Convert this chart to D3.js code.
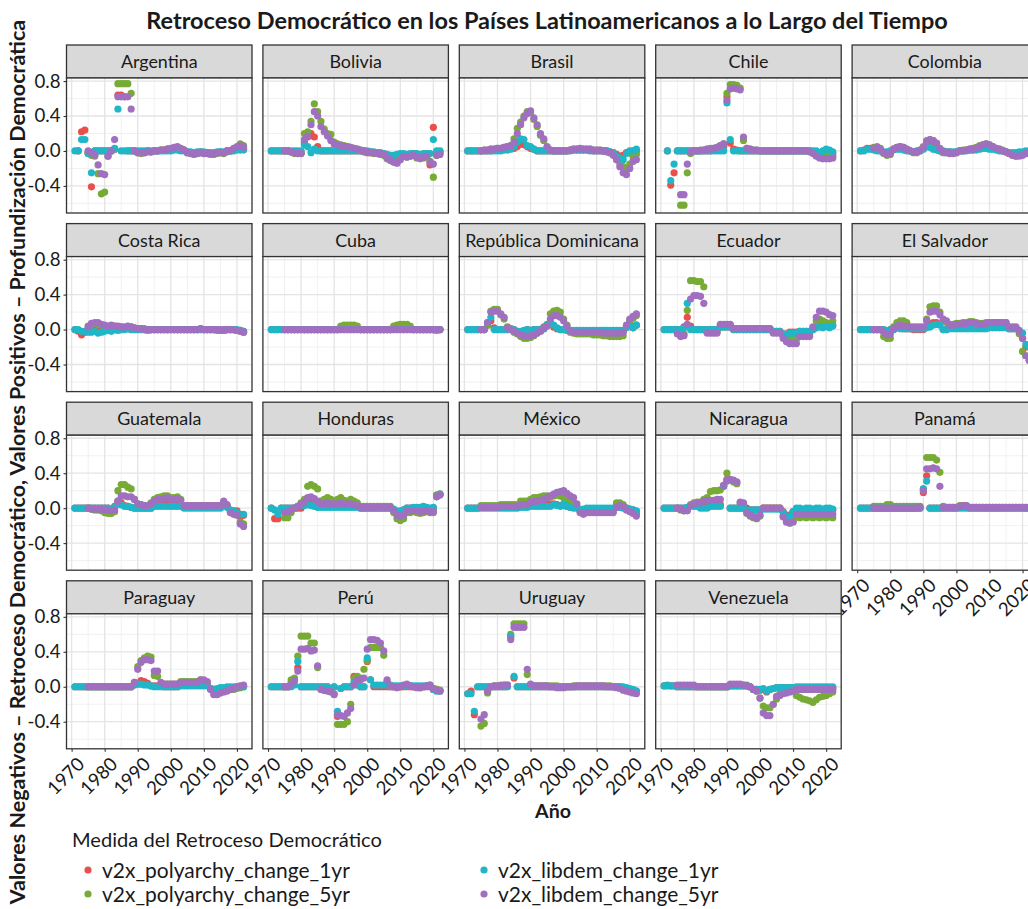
<!DOCTYPE html>
<html lang="es">
<head>
<meta charset="UTF-8">
<title>Retroceso Democrático en los Países Latinoamericanos</title>
<script src="https://d3js.org/d3.v7.min.js"></script>
<style>
  body { margin: 0; background: #fff; }
  svg { display: block; font-family: Lato, "Open Sans", sans-serif; }
</style>
</head>
<body>
<svg id="chart" width="1028" height="909"></svg>
<script>
// Valores en centésimas, años 1971-2022; null = sin dato
// orden de filas: polyarchy 1yr, polyarchy 5yr, libdem 1yr, libdem 5yr
const N = null;
const anios = d3.range(1971, 2023);

const argentina = [
  [N,0,22,24,-2,-41,0,0,0,0,  0,0,2,64,64,62,0,0,0,-1,  -2,-1,0,-1,0,0,1,1,2,2,  3,4,2,1,-1,-2,-3,-2,-1,-2,  -2,-3,-3,-2,-1,-2,0,0,1,2,  3,2],
  [N,N,N,N,-3,-5,-6,-26,-49,-47,  -6,0,2,77,77,77,77,66,0,-2,  -3,-2,0,-1,0,0,1,1,2,2,  3,4,2,1,-2,-3,-4,-3,-2,-3,  -3,-4,-4,-3,-2,-3,-1,0,2,3,  8,6],
  [0,0,13,13,-3,-25,0,0,0,0,  0,0,3,48,0,0,0,0,0,0,  0,0,0,0,0,0,0,0,0,0,  1,1,0,0,-1,-1,-2,-1,-1,-1,  -2,-2,-2,-1,-1,-1,0,0,0,1,  1,1],
  [N,N,N,N,0,-2,-5,-16,-26,-27,  -6,0,13,62,62,62,62,48,0,-2,  -2,-2,-1,-1,0,0,1,1,2,3,  4,5,3,1,-2,-3,-3,-3,-2,-3,  -3,-3,-3,-2,-2,-2,0,0,3,5,  6,4]
];
const bolivia = [
  [0,0,0,0,0,0,-1,-2,-2,-2,  10,16,20,16,5,0,0,0,0,0,  0,0,0,0,0,0,0,0,-1,-2,  -1,-2,-2,-3,-3,-5,-7,-8,-7,-4,  -4,-5,-4,-3,-4,-5,-4,-3,-16,27,  -2,-1],
  [N,N,N,N,0,0,-1,-3,-3,-3,  20,22,34,54,45,34,25,20,19,10,  8,7,6,5,4,3,2,1,0,-1,  -2,-3,-3,-4,-5,-9,-11,-12,-13,-9,  -6,-7,-6,-5,-8,-9,-8,-7,-12,-30,  -5,-3],
  [0,0,0,0,0,0,0,0,0,0,  7,5,-2,2,0,0,0,0,0,0,  0,0,0,0,0,0,0,0,0,0,  -1,-1,-2,-2,-3,-4,-5,-5,-4,-3,  -3,-4,-3,-3,-3,-4,-3,-3,-3,13,  0,0],
  [N,N,N,N,0,0,-1,-2,-3,-3,  13,17,30,45,40,28,22,17,12,8,  7,6,5,5,4,3,2,1,0,-1,  -2,-2,-3,-3,-4,-8,-10,-13,-14,-10,  -6,-7,-6,-5,-7,-8,-7,-6,-13,-15,  -5,-4]
];
const brasil = [
  [0,0,0,0,0,0,0,0,1,1,  1,2,2,3,3,5,8,7,5,3,  2,0,0,0,0,0,0,0,0,0,  0,1,1,1,1,1,1,1,0,0,  0,0,0,-1,-2,-4,-6,-5,-2,-2,  0,0],
  [N,N,N,N,0,1,1,2,2,3,  3,4,5,6,14,26,33,40,45,44,  36,28,18,12,4,1,0,0,0,0,  0,1,2,2,2,2,2,2,1,1,  1,0,0,-2,-4,-8,-14,-18,-20,-15,  -6,-4],
  [0,0,0,0,0,0,0,0,0,0,  0,1,1,2,5,10,14,13,6,5,  2,0,0,0,0,0,0,0,0,0,  0,0,1,1,1,1,1,0,0,0,  0,0,0,-1,-2,-6,-8,-10,-3,0,  0,2],
  [N,N,N,N,0,1,1,2,2,3,  3,4,5,6,10,20,30,38,43,46,  38,30,20,14,5,1,0,0,0,0,  0,1,2,2,3,2,2,2,1,1,  1,0,-1,-2,-5,-10,-18,-25,-27,-20,  -12,-10]
];
const chile = [
  [N,0,-39,-25,0,0,0,0,0,0,  0,0,0,0,0,1,2,3,5,62,  9,2,1,0,0,0,0,0,0,0,  0,0,0,0,0,0,0,0,0,0,  0,0,0,0,0,-1,-3,-4,-3,-2,  -2,-3],
  [N,N,N,N,N,-62,-62,-25,-3,0,  0,0,1,2,3,3,4,6,8,66,  76,76,75,72,12,3,2,1,1,0,  0,0,0,0,0,0,0,0,0,0,  0,0,0,0,0,-2,-4,-6,-6,-5,  -6,-6],
  [N,0,-34,-15,0,0,0,0,0,0,  0,0,0,0,0,0,0,0,0,55,  13,0,0,0,0,0,0,0,0,0,  0,0,0,0,0,0,0,0,0,0,  0,0,0,0,0,0,0,-2,0,2,  1,-1],
  [N,N,N,N,N,-50,-50,-15,-1,0,  0,1,1,2,2,3,4,6,8,58,  71,72,71,70,16,3,2,1,1,0,  0,0,0,0,0,0,0,0,0,0,  0,0,0,0,-1,-3,-6,-8,-9,-9,  -9,-8]
];
const colombia = [
  [0,1,3,3,2,1,0,-2,-2,-1,  2,3,3,2,1,0,-1,-1,0,3,  8,6,4,2,0,-1,-1,-1,-2,-1,  0,0,1,1,1,2,4,5,5,4,  3,2,1,0,-1,-3,-4,-4,-3,-2,  -1,0],
  [N,N,N,N,4,5,3,-3,-5,-4,  2,4,5,4,2,0,-2,-2,1,5,  12,13,12,8,2,-2,-2,-3,-3,-2,  0,1,1,2,3,4,6,7,8,7,  5,3,2,1,-1,-3,-5,-6,-5,-4,  -3,-2],
  [0,0,2,2,1,0,0,-1,-1,0,  1,2,2,1,0,0,-1,0,0,2,  5,4,2,1,0,0,-1,-1,-1,-1,  0,0,0,1,1,1,2,3,3,2,  2,1,0,0,-1,-2,-2,-2,-1,-1,  0,0],
  [N,N,N,N,3,4,2,-2,-4,-3,  2,4,5,4,2,0,-1,-1,1,4,  11,13,12,9,3,-1,-2,-3,-3,-2,  0,0,1,2,2,3,5,7,8,7,  5,3,2,0,-1,-3,-5,-6,-6,-5,  -3,-2]
];
const costaRica = [
  [0,-2,-6,-3,0,2,3,2,1,1,  1,2,1,1,0,1,1,0,0,0,  0,0,0,0,0,0,0,0,0,0,  0,0,0,0,0,0,0,0,0,0,  0,0,0,0,-1,-1,0,0,0,-1,  -1,-2],
  [N,N,N,N,4,6,7,6,5,4,  3,4,4,3,3,2,2,3,2,1,  1,1,0,0,0,0,0,0,0,0,  0,0,0,0,0,0,0,0,1,0,  0,0,0,-1,-1,-1,0,0,0,-1,  -2,-3],
  [0,0,-2,-2,-3,-3,-2,-4,-3,-2,  -1,-2,0,-1,0,0,1,0,0,0,  0,0,-1,0,0,0,0,0,0,0,  0,0,0,0,0,0,0,0,0,0,  0,0,0,0,-1,-1,0,0,0,0,  -1,-2],
  [N,N,N,N,3,7,8,8,6,5,  4,5,4,4,3,3,4,3,2,1,  1,0,0,0,0,0,0,0,0,0,  0,0,0,0,0,0,0,0,1,0,  0,0,0,0,0,0,0,0,0,-1,  -2,-3]
];
const cuba = [
  [0,0,0,0,0,0,0,0,0,0,  0,0,0,0,0,0,0,0,0,0,  0,2,3,3,3,3,2,0,0,0,  0,0,0,0,0,0,0,2,3,4,  4,4,2,0,0,0,0,0,0,0,  0,0],
  [N,N,N,N,0,0,0,0,0,0,  0,0,0,0,0,0,0,0,0,0,  0,4,5,5,5,5,4,0,0,0,  0,0,0,0,0,0,0,4,5,6,  6,6,4,0,0,0,0,0,0,0,  0,0],
  [0,0,0,0,0,0,0,0,0,0,  0,0,0,0,0,0,0,0,0,0,  0,0,0,0,0,0,0,0,0,0,  0,0,0,0,0,0,0,0,0,0,  0,0,0,0,0,0,0,0,0,0,  -1,0],
  [N,N,N,N,0,0,0,0,0,0,  0,0,0,0,0,0,0,0,0,0,  0,0,0,0,0,0,0,0,0,0,  0,0,0,0,0,0,0,0,0,0,  0,0,0,0,0,0,0,0,0,0,  0,0]
];
const repDominicana = [
  [0,0,0,0,0,0,5,10,2,0,  0,0,0,1,0,-2,-3,-2,0,-1,  0,0,0,1,5,6,3,1,0,0,  -1,-2,-2,-2,-2,-2,-2,-2,-2,-2,  -3,-2,-2,-3,-3,-3,-2,-2,3,8,  2,5],
  [N,N,N,N,0,0,5,21,23,23,  17,12,3,0,-3,-5,-8,-10,-10,-9,  -7,-4,-2,3,6,18,21,22,20,12,  5,-3,-4,-5,-5,-5,-5,-5,-6,-6,  -6,-7,-7,-8,-8,-8,-8,-7,4,10,  13,16],
  [0,0,0,0,0,0,8,14,0,0,  0,0,0,1,0,-2,-2,-1,0,-1,  0,0,0,1,5,8,5,2,0,0,  0,-1,-1,-1,-1,-1,-1,-1,-1,-1,  -1,-1,-1,-1,-1,-1,-1,-1,2,4,  2,5],
  [N,N,N,N,0,0,8,20,21,21,  18,14,2,0,-2,-4,-6,-7,-8,-7,  -6,-4,-2,2,4,12,16,16,14,10,  4,-2,-3,-3,-3,-3,-3,-3,-3,-3,  -3,-4,-4,-4,-4,-4,-4,-3,5,12,  15,18]
];
const ecuador = [
  [0,0,0,0,0,0,3,14,4,0,  0,0,0,0,0,0,0,3,3,3,  3,0,0,0,0,0,0,0,0,0,  0,0,0,-2,-2,-2,-6,-5,-3,-3,  -3,-2,-2,-2,-2,0,2,5,3,6,  3,5],
  [N,N,N,N,-3,-6,-5,22,56,56,  55,55,49,-3,-3,-3,-3,5,5,5,  5,1,1,1,1,1,1,1,1,1,  1,1,1,-3,-3,-3,-8,-10,-11,-11,  -11,-6,-6,-6,-6,2,10,12,10,8,  6,10],
  [0,0,0,0,0,0,2,30,0,0,  0,0,0,0,0,0,0,3,3,3,  3,0,0,0,0,0,0,0,0,0,  0,0,0,-2,-2,-2,-5,-6,-4,-4,  -4,-2,-2,-2,-2,0,2,3,2,4,  2,4],
  [N,N,N,N,-5,-8,-7,6,35,39,  39,38,30,-4,-4,-4,-4,6,6,6,  6,1,1,1,1,1,1,1,1,1,  1,1,1,-4,-4,-4,-10,-14,-16,-16,  -16,-8,-8,-8,-8,3,14,21,21,20,  17,16]
];
const elSalvador = [
  [0,0,0,0,0,0,0,0,-3,0,  0,3,2,1,1,1,0,0,0,0,  3,5,8,8,6,0,0,2,2,2,  3,3,3,3,3,3,3,3,3,4,  4,4,4,4,4,1,1,1,-2,-10,  -20,-20],
  [N,N,N,N,0,0,0,-8,-10,-10,  3,8,10,10,8,2,2,2,2,2,  12,26,27,27,20,10,8,6,6,7,  7,8,8,9,9,8,7,7,8,8,  8,8,8,8,8,2,2,2,-5,-25,  -30,-35],
  [0,0,0,0,0,0,0,0,-2,0,  0,2,1,1,1,1,1,1,1,1,  2,3,5,6,5,0,0,1,1,1,  1,1,1,1,1,1,1,1,1,2,  2,2,2,2,2,1,1,1,-1,-4,  -17,-20],
  [N,N,N,N,0,0,0,-3,-6,-5,  1,4,5,4,4,3,3,3,3,3,  10,20,21,21,17,12,10,5,5,6,  6,7,7,8,8,7,6,6,7,8,  8,8,8,8,8,3,3,3,-2,-10,  -30,-35]
];
const guatemala = [
  [0,0,0,0,0,0,0,0,0,0,  0,-2,2,8,6,3,2,1,0,0,  0,0,0,0,4,4,4,4,4,4,  4,4,4,1,1,1,1,1,1,1,  1,1,1,1,1,5,2,-3,-3,-3,  -10,-8],
  [N,N,N,N,0,-1,-2,-2,-3,-5,  -6,-6,-4,20,27,27,24,22,10,5,  4,3,2,6,10,12,13,14,14,12,  12,13,10,3,3,3,3,3,3,3,  3,3,3,3,3,7,3,-4,-6,-7,  -16,-18],
  [0,0,0,0,0,0,0,0,0,0,  0,-1,1,5,4,2,2,1,0,0,  0,0,0,0,2,2,2,2,2,2,  2,2,2,0,0,0,0,0,0,0,  0,0,0,0,0,4,1,-2,-3,-5,  -7,-7],
  [N,N,N,N,0,-1,-1,-1,-1,-2,  -2,-3,-2,8,14,14,13,13,10,5,  4,3,3,5,8,10,10,11,12,10,  10,11,9,3,3,3,3,3,3,3,  3,3,3,3,3,8,4,-5,-7,-8,  -18,-21]
];
const honduras = [
  [0,-12,-12,0,0,0,0,0,0,0,  5,8,10,3,2,2,2,2,2,2,  2,2,2,2,2,2,2,0,0,0,  0,0,0,0,0,0,0,-2,-5,-4,  -2,0,0,0,0,0,0,-1,-2,0,  15,16],
  [N,N,N,N,-11,-11,-5,0,2,6,  10,25,27,25,22,8,10,12,10,8,  10,12,9,8,10,8,6,2,2,2,  2,2,2,2,2,2,2,-5,-12,-14,  -12,-5,-5,-4,-5,-6,-5,-4,-5,-5,  15,16],
  [0,-2,-7,0,0,0,0,0,2,3,  3,4,3,2,1,1,1,1,1,1,  1,1,1,1,1,1,1,0,0,0,  0,0,0,0,0,0,0,-1,-3,-3,  -2,0,0,1,1,1,2,1,0,1,  13,16],
  [N,N,N,N,-5,-4,-2,0,2,5,  7,12,13,11,8,5,5,6,5,5,  5,6,5,5,5,4,3,1,1,1,  1,1,1,1,1,1,1,-3,-8,-9,  -8,-3,-3,-3,-3,-4,-3,-3,-4,-4,  13,15]
];
const mexico = [
  [0,0,0,0,1,1,1,1,1,1,  1,1,1,1,1,1,2,2,2,4,  4,4,4,4,4,5,5,4,3,3,  2,1,1,1,-3,-3,-1,-1,-1,-1,  -1,-1,-1,-1,-1,2,2,1,0,-1,  -2,-4],
  [N,N,N,N,3,3,3,3,3,3,  4,4,4,4,4,4,8,8,8,10,  12,12,13,14,14,13,14,15,14,12,  10,8,6,2,-4,-5,-4,-4,-4,-4,  -4,-4,-4,-4,-4,6,6,4,0,-3,  -5,-7],
  [0,0,0,0,0,0,0,0,0,0,  0,0,0,0,0,0,1,1,1,2,  2,2,2,2,2,2,4,3,2,5,  2,1,0,0,-2,-1,0,0,0,0,  0,0,0,0,0,1,1,0,0,-1,  -2,-3],
  [N,N,N,N,1,1,1,1,1,1,  2,2,2,2,2,2,4,4,4,7,  8,8,9,10,12,14,16,18,19,20,  17,14,12,5,-5,-7,-5,-5,-5,-5,  -5,-5,-5,-5,-5,1,3,2,-2,-4,  -6,-9]
];
const nicaragua = [
  [0,0,0,0,0,0,0,0,3,3,  3,3,3,3,4,4,4,4,25,33,  0,0,0,0,0,0,-2,-2,-2,-2,  0,0,0,0,0,0,-4,-8,-8,-4,  -2,-2,-2,-2,-2,-2,-2,-2,-2,-2,  -2,-2],
  [N,N,N,N,0,-2,-3,-2,4,6,  7,7,10,12,19,20,20,21,26,40,  32,30,28,6,5,-6,-9,-11,-12,-9,  0,0,0,0,0,0,-9,-15,-17,-15,  -10,-11,-10,-11,-10,-11,-10,-11,-10,-11,  -10,-11],
  [0,0,0,0,0,0,0,1,2,2,  2,0,0,0,2,2,2,2,25,31,  0,0,0,0,0,-3,-2,-2,-2,-2,  -1,-1,-1,-1,-1,-1,-5,-9,-9,-4,  0,0,-1,0,0,-1,0,0,-1,0,  0,-1],
  [N,N,N,N,0,-1,-3,-3,3,5,  6,6,8,9,9,9,10,10,26,32,  33,32,30,7,6,-5,-8,-10,-11,-8,  0,0,0,0,0,0,-10,-16,-17,-16,  -7,-7,-7,-7,-7,-7,-7,-7,-7,-7,  -7,-7]
];
const panama = [
  [0,0,0,0,0,0,0,0,0,0,  0,0,0,0,0,0,0,0,0,18,  37,0,0,0,0,0,0,0,0,0,  1,1,1,0,0,0,0,0,0,0,  0,0,0,0,0,0,0,0,0,0,  0,0],
  [N,N,N,N,2,2,2,2,4,4,  2,2,2,2,2,2,2,2,2,22,  58,58,58,55,41,2,1,1,1,1,  3,3,3,1,1,1,1,1,1,1,  1,1,1,1,1,1,1,1,1,1,  1,1],
  [0,0,0,0,0,0,0,0,0,0,  0,0,0,0,0,0,0,0,0,22,  31,0,0,0,0,0,0,0,0,0,  0,0,0,0,0,0,0,0,0,0,  0,0,0,0,0,0,0,0,0,0,  0,0],
  [N,N,N,N,0,0,0,0,0,0,  0,0,0,0,0,0,0,0,1,20,  45,45,46,45,25,1,1,1,1,1,  2,3,3,1,1,1,1,1,1,1,  1,1,1,1,1,1,1,1,1,1,  1,1]
];
const paraguay = [
  [0,0,0,0,0,0,0,0,0,0,  0,0,0,0,0,0,0,0,3,4,  7,6,4,1,1,1,1,0,0,0,  0,0,3,3,3,3,3,3,3,3,  3,-2,-3,-3,-2,-2,-1,-1,-1,0,  0,1],
  [N,N,N,N,0,0,0,0,0,0,  0,0,0,0,0,0,0,0,5,23,  30,33,35,34,13,12,3,3,3,3,  3,3,6,6,6,6,6,6,8,7,  5,-2,-7,-7,-5,-4,-3,-2,-3,-2,  -1,0],
  [0,0,0,0,0,0,0,0,0,0,  0,0,0,0,0,0,0,0,2,3,  3,2,2,1,0,0,0,0,0,0,  0,0,1,1,1,1,1,1,1,1,  1,-2,-3,-2,-1,-1,0,0,0,0,  0,0],
  [N,N,N,N,0,0,0,0,0,0,  0,0,0,0,0,0,0,0,5,20,  28,31,31,30,18,18,5,3,3,3,  3,3,5,5,5,5,5,5,8,8,  6,-3,-9,-9,-7,-6,-5,-3,-2,0,  1,2]
];
const peru = [
  [0,0,0,0,0,0,5,8,22,0,  0,0,0,0,0,0,0,0,-3,0,  -34,-2,0,0,0,12,3,0,0,29,  8,0,0,0,0,0,0,0,0,0,  0,0,0,0,0,0,0,0,0,-2,  -3,-4],
  [N,N,N,N,0,0,8,10,35,58,  58,58,50,50,22,-2,-4,-4,-6,-8,  -43,-43,-43,-40,-20,10,12,10,20,30,  45,45,45,45,36,6,0,0,0,0,  1,1,1,0,0,-1,0,1,2,-3,  -3,-4],
  [0,0,0,0,0,0,0,2,29,0,  0,0,0,0,0,0,0,0,-2,0,  -28,-2,0,0,0,5,2,0,0,33,  8,2,2,2,2,2,2,1,1,1,  1,1,1,1,1,1,1,1,1,-3,  -5,-5],
  [N,N,N,N,0,0,3,7,18,43,  43,44,41,42,24,-3,-4,-5,-5,-9,  -32,-33,-34,-30,-25,2,8,8,10,43,  54,54,53,50,41,8,1,0,-1,0,  2,3,1,0,-1,-1,0,1,2,-2,  -4,-5]
];
const uruguay = [
  [-8,-5,-32,0,0,0,0,0,0,0,  0,0,0,57,10,0,0,0,0,0,  0,0,0,0,0,0,0,0,0,0,  0,0,0,0,0,0,0,0,0,0,  0,0,0,0,0,0,0,-1,-2,-3,  -4,-5],
  [N,N,N,N,-45,-42,-7,0,1,1,  2,2,2,60,72,72,72,72,14,2,  1,1,1,1,1,1,1,1,0,0,  0,0,1,1,1,1,1,1,1,1,  1,1,1,1,0,0,0,-1,-3,-4,  -5,-6],
  [-8,-8,-28,0,0,0,0,0,0,0,  0,0,0,58,12,0,0,0,0,0,  0,0,0,0,0,0,0,0,0,0,  0,0,0,0,0,0,0,0,0,0,  0,0,0,0,0,0,0,0,-1,-2,  -3,-5],
  [N,N,N,N,-37,-32,-5,0,1,1,  1,2,2,54,68,68,68,68,20,3,  1,1,1,1,1,0,0,-1,-1,-1,  0,0,0,1,1,1,1,1,1,1,  1,1,0,0,0,-1,-2,-4,-5,-6,  -7,-8]
];
const venezuela = [
  [1,1,1,1,0,0,0,0,0,0,  0,0,0,0,0,0,0,0,0,0,  1,1,1,1,1,1,0,-3,-3,-4,  -3,-6,-3,-2,-1,-1,-1,-1,-1,-1,  -1,-1,-1,-1,-1,-1,-1,-1,-1,-1,  -1,-1],
  [N,N,N,N,1,1,1,1,1,1,  0,0,0,0,0,0,0,0,0,0,  2,2,2,2,2,2,0,-3,-5,-13,  -22,-24,-24,-20,-14,-8,-6,-5,-4,-4,  -10,-12,-14,-15,-16,-18,-15,-12,-11,-10,  -8,-6],
  [1,2,1,1,0,0,0,0,0,0,  0,0,0,0,0,0,0,0,0,0,  1,1,1,1,1,1,0,-3,-3,-3,  -2,-5,-3,-2,-1,-1,-1,-1,-1,-1,  0,0,0,0,0,0,0,0,0,0,  0,0],
  [N,N,N,N,2,2,2,2,2,2,  0,0,0,0,0,0,0,0,0,0,  3,3,3,3,2,1,0,-3,-5,-13,  -30,-33,-33,-20,-11,-10,-8,-7,-6,-5,  -3,-3,-3,-3,-3,-3,-3,-3,-3,-3,  -3,-3]
];

const paises = ["Argentina", "Bolivia", "Brasil", "Chile", "Colombia",
  "Costa Rica", "Cuba", "República Dominicana", "Ecuador", "El Salvador",
  "Guatemala", "Honduras", "México", "Nicaragua", "Panamá",
  "Paraguay", "Perú", "Uruguay", "Venezuela"];
const datosPaises = [argentina, bolivia, brasil, chile, colombia,
  costaRica, cuba, repDominicana, ecuador, elSalvador,
  guatemala, honduras, mexico, nicaragua, panama,
  paraguay, peru, uruguay, venezuela];

const medidas = ["v2x_polyarchy_change_1yr", "v2x_polyarchy_change_5yr",
  "v2x_libdem_change_1yr", "v2x_libdem_change_5yr"];
const colores = ["#ea4f4c", "#77ab35", "#1fb7c7", "#a06fc0"];

const xTicks = [1970, 1980, 1990, 2000, 2010, 2020];
const xMinor = [1975, 1985, 1995, 2005, 2015];
const yTicks = [-0.4, 0, 0.4, 0.8];
const yMinor = [-0.6, -0.2, 0.2, 0.6];

// --- layout ---
const LEFT = 66.5, TOP = 45, COL_STEP = 196.4, ROW_STEP = 178.6;
const PW = 185.5, STRIP_H = 33, PH = 135;
const TXT = "#1a1a1a";
const R_PT = 3.6;

const svg = d3.select("#chart");
svg.append("rect").attr("width", 1028).attr("height", 909).attr("fill", "#fff");

const x = d3.scaleLinear().domain([1968.45, 2024.55]).range([0, PW]);
const y = d3.scaleLinear().domain([-0.71, 0.835]).range([PH, 0]);

// ajusta el tamaño de letra para que el texto mida "ancho" px
function ajustar(sel, ancho) {
  const w = sel.node().getComputedTextLength();
  const fs = parseFloat(sel.attr("font-size"));
  const nuevo = fs * ancho / w;
  sel.attr("font-size", nuevo);
  return nuevo;
}

// tamaños de letra medidos una vez
const prueba = svg.append("text").attr("font-size", 16).text("República Dominicana");
const fsStrip = ajustar(prueba, 174);
prueba.attr("font-size", 16).text("-0.4");
const fsTick = ajustar(prueba, 33);
prueba.remove();

paises.forEach((nombre, i) => {
  const col = i % 5, fila = Math.floor(i / 5);
  const g = svg.append("g")
    .attr("transform", `translate(${LEFT + col * COL_STEP},${TOP + fila * ROW_STEP})`);

  // strip
  g.append("rect")
    .attr("width", PW).attr("height", STRIP_H)
    .attr("fill", "#d9d9d9").attr("stroke", "#333").attr("stroke-width", 1.3);
  g.append("text")
    .attr("x", PW / 2).attr("y", STRIP_H / 2).attr("dy", "0.36em")
    .attr("text-anchor", "middle").attr("font-size", fsStrip).attr("fill", TXT)
    .text(nombre);

  const p = g.append("g").attr("transform", `translate(0,${STRIP_H})`);
  p.append("rect").attr("width", PW).attr("height", PH).attr("fill", "#fff");

  // rejilla
  p.append("g").selectAll("line").data(xMinor).join("line")
    .attr("x1", d => x(d)).attr("x2", d => x(d)).attr("y1", 0).attr("y2", PH)
    .attr("stroke", "#efefef").attr("stroke-width", 0.9);
  p.append("g").selectAll("line").data(yMinor).join("line")
    .attr("y1", d => y(d)).attr("y2", d => y(d)).attr("x1", 0).attr("x2", PW)
    .attr("stroke", "#efefef").attr("stroke-width", 0.9);
  p.append("g").selectAll("line").data(xTicks).join("line")
    .attr("x1", d => x(d)).attr("x2", d => x(d)).attr("y1", 0).attr("y2", PH)
    .attr("stroke", "#e4e4e4").attr("stroke-width", 1.3);
  p.append("g").selectAll("line").data(yTicks).join("line")
    .attr("y1", d => y(d)).attr("y2", d => y(d)).attr("x1", 0).attr("x2", PW)
    .attr("stroke", "#e4e4e4").attr("stroke-width", 1.3);

  // puntos, una serie tras otra
  datosPaises[i].forEach((serie, k) => {
    const pts = serie.map((v, j) => ({ anio: anios[j], v: v }))
      .filter(d => d.v !== null);
    p.append("g").selectAll("circle").data(pts).join("circle")
      .attr("cx", d => x(d.anio))
      .attr("cy", d => y(d.v / 100))
      .attr("r", R_PT)
      .attr("fill", colores[k]);
  });

  p.append("rect")
    .attr("width", PW).attr("height", PH)
    .attr("fill", "none").attr("stroke", "#333").attr("stroke-width", 1.3);

  // eje y solo en la primera columna
  if (col === 0) {
    const ay = p.append("g")
      .call(d3.axisLeft(y).tickValues(yTicks).tickSize(3).tickPadding(3)
        .tickFormat(v => v.toFixed(1)));
    ay.select(".domain").remove();
    ay.selectAll("line").attr("stroke", "#333").attr("stroke-width", 1.1);
    ay.selectAll("text").attr("font-size", fsTick).attr("fill", TXT)
      .style("font-family", "Lato, 'Open Sans', sans-serif");
  }

  // eje x bajo el último panel de cada columna
  if (i + 5 >= paises.length) {
    const ax = p.append("g").attr("transform", `translate(0,${PH})`)
      .call(d3.axisBottom(x).tickValues(xTicks).tickSize(3).tickFormat(d3.format("d")));
    ax.select(".domain").remove();
    ax.selectAll("line").attr("stroke", "#333").attr("stroke-width", 1.1);
    ax.selectAll("text")
      .attr("x", 0).attr("y", 0).attr("dy", "0.72em")
      .attr("text-anchor", "end")
      .attr("transform", "translate(4,7) rotate(-45)")
      .attr("font-size", fsTick).attr("fill", TXT)
      .style("font-family", "Lato, 'Open Sans', sans-serif");
  }
});

// títulos
const titulo = svg.append("text")
  .attr("x", 547).attr("y", 29).attr("text-anchor", "middle")
  .attr("font-size", 18).attr("font-weight", "bold").attr("fill", TXT)
  .text("Retroceso Democrático en los Países Latinoamericanos a lo Largo del Tiempo");
ajustar(titulo, 802);

const ejeX = svg.append("text")
  .attr("x", 553).attr("y", 818).attr("text-anchor", "middle")
  .attr("font-size", 17).attr("font-weight", "bold").attr("fill", TXT)
  .text("Año");
ajustar(ejeX, 36);

const ejeY = svg.append("text")
  .attr("transform", "translate(25,462) rotate(-90)")
  .attr("text-anchor", "middle")
  .attr("font-size", 17).attr("font-weight", "bold").attr("fill", TXT)
  .text("Valores Negativos – Retroceso Democrático, Valores Positivos – Profundización Democrática");
ajustar(ejeY, 885);

// leyenda
const leyenda = svg.append("g");
const tLey = leyenda.append("text")
  .attr("x", 72).attr("y", 847).attr("font-size", 18).attr("fill", TXT)
  .text("Medida del Retroceso Democrático");
ajustar(tLey, 310);

const posLey = [[88, 870], [88, 894], [484, 870], [484, 894]];
let fsLey = null;
medidas.forEach((m, k) => {
  const [lx, ly] = posLey[k];
  leyenda.append("circle").attr("cx", lx).attr("cy", ly).attr("r", R_PT).attr("fill", colores[k]);
  const t = leyenda.append("text")
    .attr("x", lx + 14).attr("y", ly).attr("dy", "0.36em")
    .attr("font-size", 18).attr("fill", TXT).text(m);
  if (k === 0) fsLey = ajustar(t, 248);
  else t.attr("font-size", fsLey);
});
</script>
</body>
</html>
